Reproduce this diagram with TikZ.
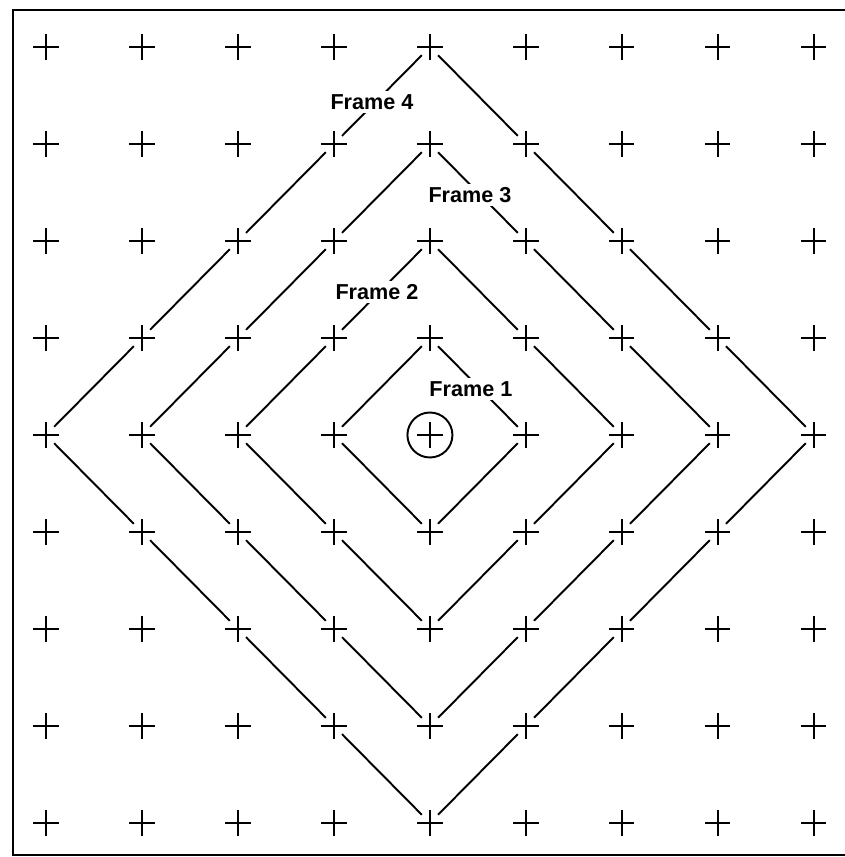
\documentclass[tikz,border=0pt]{standalone}
\usepackage{fontspec}
\newfontfamily\framefont{Liberation Sans}
\usetikzlibrary{shapes.misc}
\tikzset{>=latex}
\tikzstyle{plus} = [cross out, draw, rotate=45, minimum size=0.31cm, inner sep=0pt, line width=1.3pt]
\tikzstyle{edge} = [line width = 1.1, shorten <= 1.5pt, shorten >= 1.5pt]
\tikzstyle{framelabel} = [%
					fill = white,
					inner sep = 2pt,
					font = \framefont\bfseries\fontsize{12.3}{14}\selectfont
					]

\begin{document}
\begin{tikzpicture}[x=1.92cm, y=1.94cm]
	
	% Frame
	\useasboundingbox (-4.479,-4.351) rectangle (4.323,4.485);
	\draw[line width = 1.6pt] (4.6,4.381) -- (-4.344,4.381) -- (-4.344,-4.330) -- (4.6,-4.330);
	
	% Grid of crosses
	\foreach \c in {0,...,8}
	{
		\foreach \r in {0,...,8}
		{
			\node[plus] (g-\c-\r) at (\c-4,4-\r) {};
		}
	}
	
	% Centre
	\node[circle, draw, line width=1.1pt, minimum size=0.9cm] (ctr) at (g-4-4) {};
	
	% Diamonds
	\foreach \k in {1,...,4}
	{
		\foreach \s in {1,...,\k}
		{
			\pgfmathtruncatemacro{\t}{\s-1}
			%% upper right
			\pgfmathtruncatemacro{\xa}{4+\t}   \pgfmathtruncatemacro{\ya}{4-\k+\t}
			\pgfmathtruncatemacro{\xb}{4+\s}   \pgfmathtruncatemacro{\yb}{4-\k+\s}
			\draw[edge] (g-\xa-\ya) -- (g-\xb-\yb);
			%% lower right
			\pgfmathtruncatemacro{\xa}{4+\k-\t} \pgfmathtruncatemacro{\ya}{4+\t}
			\pgfmathtruncatemacro{\xb}{4+\k-\s} \pgfmathtruncatemacro{\yb}{4+\s}
			\draw[edge] (g-\xa-\ya) -- (g-\xb-\yb);
			%% lower left
			\pgfmathtruncatemacro{\xa}{4-\t}   \pgfmathtruncatemacro{\ya}{4+\k-\t}
			\pgfmathtruncatemacro{\xb}{4-\s}   \pgfmathtruncatemacro{\yb}{4+\k-\s}
			\draw[edge] (g-\xa-\ya) -- (g-\xb-\yb);
			%% upper left
			\pgfmathtruncatemacro{\xa}{4-\k+\t} \pgfmathtruncatemacro{\ya}{4-\t}
			\pgfmathtruncatemacro{\xb}{4-\k+\s} \pgfmathtruncatemacro{\yb}{4-\s}
			\draw[edge] (g-\xa-\ya) -- (g-\xb-\yb);
		}
	}
	
	% Labels
	\node[framelabel] (lab1) at (0.427,0.474) {Frame 1};
	\node[framelabel] (lab2) at (-0.552,1.474) {Frame 2};
	\node[framelabel] (lab3) at (0.417,2.474) {Frame 3};
	\node[framelabel] (lab4) at (-0.604,3.433) {Frame 4};

\end{tikzpicture}
\end{document}
